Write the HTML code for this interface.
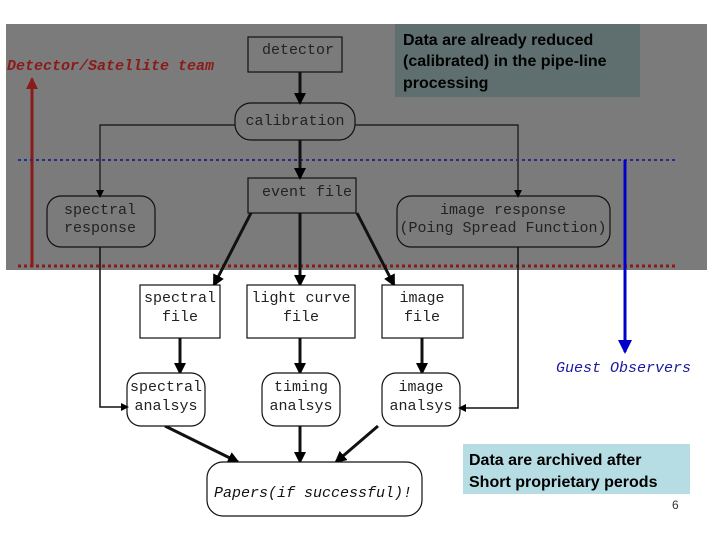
<!DOCTYPE html>
<html><head><meta charset="utf-8"><style>
body{margin:0;background:#fff;width:720px;height:540px;overflow:hidden}
svg{display:block}
.m{font-family:"Liberation Mono",monospace;font-size:15px;fill:#222}
.b{font-family:"Liberation Sans",sans-serif;font-weight:bold;font-size:16px;fill:#000}
</style></head><body>
<svg width="720" height="540" viewBox="0 0 720 540" xmlns="http://www.w3.org/2000/svg">
<defs>
<marker id="ah" markerWidth="8" markerHeight="8" refX="6" refY="4" orient="auto" markerUnits="userSpaceOnUse"><path d="M0,0 L8,4 L0,8 z" fill="#000"/></marker>
<marker id="ahs" markerWidth="12" markerHeight="12" refX="10" refY="6" orient="auto" markerUnits="userSpaceOnUse"><path d="M0,0 L12,6 L0,12 z" fill="#000"/></marker>
<marker id="ahr" markerWidth="12" markerHeight="12" refX="10" refY="6" orient="auto" markerUnits="userSpaceOnUse"><path d="M0,0 L12,6 L0,12 z" fill="#8b1a1a"/></marker>
<marker id="ahb" markerWidth="14" markerHeight="14" refX="12" refY="7" orient="auto" markerUnits="userSpaceOnUse"><path d="M0,0 L14,7 L0,14 z" fill="#0000cc"/></marker>
</defs>
<rect x="6" y="24" width="701" height="246" fill="#7b7b7b"/>
<rect x="395" y="24" width="245" height="73" fill="#5f6f6f"/>
<text class="b" x="403" y="45">Data are already reduced</text>
<text class="b" x="403" y="66">(calibrated) in the pipe-line</text>
<text class="b" x="403" y="88">processing</text>
<text x="7" y="70" font-family="Liberation Mono,monospace" font-style="italic" font-weight="bold" font-size="15" fill="#8b1a1a">Detector/Satellite team</text>
<line x1="32" y1="267" x2="32" y2="79" stroke="#8b1a1a" stroke-width="3" marker-end="url(#ahr)"/>
<g fill="none" stroke="#111" stroke-width="1.2">
<rect x="248" y="37" width="94" height="35"/>
<rect x="235" y="103" width="120" height="37" rx="16"/>
<rect x="248" y="178" width="108" height="35"/>
<rect x="47" y="196" width="108" height="51" rx="14"/>
<rect x="397" y="196" width="213" height="51" rx="14"/>
<polyline points="235,125 100,125 100,196" marker-end="url(#ah)"/>
<polyline points="355,125 518,125 518,196" marker-end="url(#ah)"/>
</g>
<line x1="18" y1="160" x2="676" y2="160" stroke="#2a2a8a" stroke-width="2" stroke-dasharray="3,3"/>
<line x1="18" y1="266" x2="676" y2="266" stroke="#8b1a1a" stroke-width="3" stroke-dasharray="3,3"/>
<g stroke="#111" stroke-width="3">
<line x1="300" y1="72" x2="300" y2="103" marker-end="url(#ahs)"/>
<line x1="300" y1="140" x2="300" y2="178" marker-end="url(#ahs)"/>
<line x1="251" y1="213" x2="214" y2="285" marker-end="url(#ahs)"/>
<line x1="300" y1="213" x2="300" y2="285" marker-end="url(#ahs)"/>
<line x1="357" y1="213" x2="394" y2="285" marker-end="url(#ahs)"/>
<line x1="180" y1="338" x2="180" y2="373" marker-end="url(#ahs)"/>
<line x1="300" y1="338" x2="300" y2="373" marker-end="url(#ahs)"/>
<line x1="422" y1="338" x2="422" y2="373" marker-end="url(#ahs)"/>
<line x1="165" y1="426" x2="238" y2="462" marker-end="url(#ahs)"/>
<line x1="300" y1="426" x2="300" y2="462" marker-end="url(#ahs)"/>
<line x1="378" y1="426" x2="336" y2="462" marker-end="url(#ahs)"/>
</g>
<g fill="#fff" stroke="#111" stroke-width="1.2">
<rect x="140" y="285" width="80" height="53"/>
<rect x="247" y="285" width="108" height="53"/>
<rect x="382" y="285" width="81" height="53"/>
<rect x="127" y="373" width="78" height="53" rx="14"/>
<rect x="262" y="373" width="78" height="53" rx="14"/>
<rect x="382" y="373" width="78" height="53" rx="14"/>
<rect x="207" y="462" width="215" height="54" rx="16"/>
</g>
<g fill="none" stroke="#111" stroke-width="1.5">
<polyline points="100,247 100,407 127,407" marker-end="url(#ah)"/>
<polyline points="518,247 518,408 460,408" marker-end="url(#ah)"/>
</g>
<line x1="625" y1="160" x2="625" y2="352" stroke="#0000cc" stroke-width="3" marker-end="url(#ahb)"/>
<text x="556" y="372" font-family="Liberation Mono,monospace" font-style="italic" font-size="15" fill="#1a1aa0">Guest Observers</text>
<g class="m" text-anchor="middle">
<text x="298" y="54">detector</text>
<text x="295" y="125">calibration</text>
<text x="307" y="196">event file</text>
<text x="100" y="214">spectral</text><text x="100" y="232">response</text>
<text x="503" y="214">image response</text><text x="503" y="232">(Poing Spread Function)</text>
<text x="180" y="302">spectral</text><text x="180" y="321">file</text>
<text x="301" y="302">light curve</text><text x="301" y="321">file</text>
<text x="422" y="302">image</text><text x="422" y="321">file</text>
<text x="166" y="391">spectral</text><text x="166" y="410">analsys</text>
<text x="301" y="391">timing</text><text x="301" y="410">analsys</text>
<text x="421" y="391">image</text><text x="421" y="410">analsys</text>
</g>
<text x="313" y="497" text-anchor="middle" font-family="Liberation Mono,monospace" font-style="italic" font-size="15" fill="#111">Papers(if successful)!</text>
<rect x="463" y="444" width="227" height="50" fill="#b7dde4"/>
<text class="b" x="469" y="465">Data are archived after</text>
<text class="b" x="469" y="487">Short proprietary perods</text>
<text x="672" y="509" font-family="Liberation Sans,sans-serif" font-size="12" fill="#333">6</text>
</svg>
</body></html>
